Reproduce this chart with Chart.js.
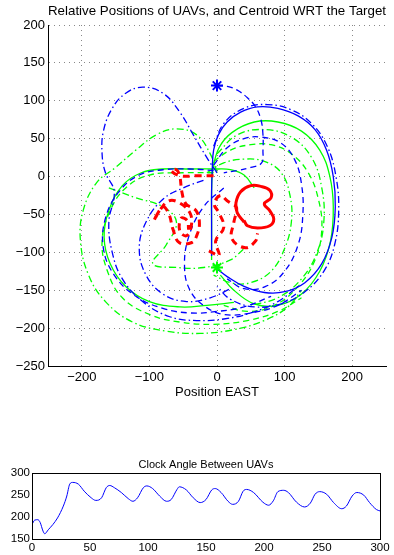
<!DOCTYPE html>
<html>
<head>
<meta charset="utf-8">
<script src="https://cdn.jsdelivr.net/npm/chart.js@4.4.1/dist/chart.umd.min.js"></script>
<style>
  body { margin: 0; background: #fff; }
  canvas { position: absolute; left: 0; }
  #top { top: 0; }
  #bottom { top: 410px; }
</style>
</head>
<body>
<canvas id="top" width="394" height="410"></canvas>
<canvas id="bottom" width="394" height="145"></canvas>
<script>
// Top plot: relative positions (EAST, NORTH) of the two UAVs and their centroid
const xTicks = [-200, -100, 0, 100, 200];
const yTicks = [-250, -200, -150, -100, -50, 0, 50, 100, 150, 200];

const uav1Start = [[0, 120]];
const uav2Start = [[0, -120]];

// UAV 1 (blue)
const blueApproach = [[0, 120], [15, 119], [30, 114], [45, 104], [57, 92], [65, 75], [68, 55], [68, 35], [66, 18], [50, 12], [30, 8], [10, 5]];
const blueSolid = [[-8, -105], [-8, -60], [-8, -20], [-7, 10], [-5, 35], [2, 55], [15, 72], [35, 85], [60, 92], [90, 90], [120, 80], [145, 62], [162, 35], [172, 0], [175, -40], [170, -80], [155, -115], [130, -140], [100, -152], [70, -153], [40, -145], [15, -132], [0, -122]];
const blueOuterRight = [[-5, 40], [10, 70], [40, 90], [75, 95], [110, 88], [140, 70], [163, 40], [176, 0], [180, -45], [174, -90], [158, -125], [130, -152], [95, -168], [55, -172], [20, -162], [0, -145]];
const blueInnerRight = [[-5, 15], [15, 38], [40, 50], [66, 52], [95, 44], [115, 22], [125, -10], [127, -50], [120, -90], [100, -125], [72, -145], [40, -148], [15, -135]];
const blueLeftLoop = [[0, 5], [-15, 25], [-35, 55], [-55, 85], [-80, 110], [-110, 118], [-135, 110], [-155, 90], [-168, 60], [-170, 30], [-165, 5], [-152, -20], [-160, -60], [-155, -100], [-140, -135], [-110, -165], [-70, -185], [-30, -190], [10, -188], [50, -180], [90, -165], [120, -145]];
const blueLeftDashed = [[-5, 8], [-40, 10], [-80, 9], [-115, 2], [-145, -20], [-165, -55], [-168, -95], [-152, -130], [-120, -158], [-80, -174], [-40, -180], [0, -178], [40, -172], [80, -158]];
const blueLeftInner = [[-20, -5], [-50, -15], [-80, -30], [-105, -60], [-115, -95], [-105, -130], [-80, -155], [-45, -165], [-10, -160], [20, -148]];
const blueCross = [[10, -15], [-20, -40], [-42, -80], [-48, -120], [-40, -150], [-20, -170], [10, -182], [50, -180], [90, -170], [125, -150]];

// UAV 2 (green)
const greenSolidRight = [[-8, -110], [-8, -60], [-8, -20], [-6, 10], [3, 38], [22, 58], [55, 72], [90, 72], [125, 60], [152, 35], [167, 0], [172, -40], [168, -85], [152, -125], [125, -155], [90, -170], [55, -168], [25, -150], [5, -130]];
const greenSolidLeft = [[55, -15], [40, 2], [20, 9], [0, 10], [-40, 10], [-80, 10], [-112, 5], [-140, -12], [-160, -45], [-167, -80], [-158, -115], [-135, -145], [-100, -165], [-55, -172], [-15, -170], [25, -166]];
const greenOuterLeft = [[0, 5], [-10, 30], [-30, 55], [-60, 63], [-90, 55], [-120, 35], [-150, 12], [-178, -8], [-198, -45], [-202, -85], [-190, -130], [-165, -165], [-125, -192], [-75, -204], [-25, -207], [25, -202], [70, -190], [105, -172], [125, -150]];
const greenLeftDashed = [[-5, 5], [-50, 5], [-100, 2], [-135, -15], [-158, -45], [-170, -85], [-162, -125], [-140, -160], [-100, -182], [-55, -192], [-5, -195], [45, -190], [90, -178], [125, -160]];
const greenRightDashed = [[-5, 20], [20, 35], [50, 42], [80, 42], [110, 30], [135, 5], [150, -30], [155, -70], [145, -110], [120, -145], [85, -170], [45, -178], [10, -170]];
const greenRightInner = [[-15, 5], [10, 18], [40, 23], [70, 20], [95, 5], [108, -25], [110, -60], [100, -95], [80, -125], [50, -140], [20, -140], [-5, -130]];
const greenRightMid = [[0, 30], [30, 55], [70, 62], [110, 52], [140, 25], [155, -15], [158, -60], [148, -100], [125, -135], [90, -160], [50, -170]];
const greenLeftInner = [[-160, -15], [-120, -28], [-80, -40], [-60, -60], [-75, -90], [-95, -115], [-60, -120], [-20, -120], [20, -110], [40, -95]];

// Centroid (red)
const centroidSpiral = [[-5, 1], [-30, 1], [-55, 1], [-68, 8], [-60, 9], [-55, 0], [-52, -20], [-46, -36], [-31, -45], [-26, -62], [-30, -78], [-37, -87], [-56, -87], [-65, -70], [-71, -50], [-80, -40], [-93, -58], [-85, -45], [-71, -32], [-55, -35], [-40, -48], [-38, -65], [-45, -78], [-55, -72], [-53, -55], [-44, -58], [-42, -70]];
const centroidMid = [[-12, -98], [3, -104], [-2, -85], [10, -67], [3, -48], [-4, -36], [5, -25], [15, -32], [22, -36], [29, -41], [25, -60], [22, -82], [42, -94], [57, -85], [60, -75]];
const centroidLoop = [[40, -60], [30, -48], [28, -35], [35, -20], [50, -12], [65, -13], [78, -18], [80, -28], [70, -36], [78, -45], [84, -56], [78, -65], [60, -68], [45, -65], [40, -58]];

// Bottom plot: clock angle between UAVs
const clockTime = [0, 2.3, 5, 7, 9.5, 11, 14, 18, 22, 27, 30, 32.5, 35, 40, 45, 51, 55, 60, 64, 67, 71, 77, 83, 87, 91, 96, 99, 104, 110, 116, 120, 125, 127, 133, 139, 145, 150, 155, 158, 163, 169, 173, 178, 182, 185, 191, 199, 204, 208, 212, 217, 221, 228, 235, 240, 244, 248, 254, 260, 267, 271, 276, 280, 286, 291, 297, 300];
const clockAngle = [183, 193, 194, 188, 168, 162, 171, 183, 198, 225, 248, 275, 279, 275, 259, 244, 238, 244, 267, 272, 267, 256, 242, 236, 244, 267, 271, 265, 248, 236, 240, 263, 269, 262, 244, 233, 240, 262, 265, 256, 236, 229, 236, 259, 263, 256, 234, 227, 237, 258, 261, 256, 234, 223, 232, 252, 258, 252, 233, 219, 225, 248, 256, 250, 233, 217, 214];

const FONT = "'Liberation Sans', Arial, Helvetica, sans-serif";
const BLUE = "#0000ff", GREEN = "#00ff00", RED = "#ff0000";
const DASH = [6, 4], DASHDOT = [7, 3, 1.5, 3];

const toPts = arr => arr.map(([x, y]) => ({ x, y }));
const minus = v => (v < 0 ? "\u2212" + Math.abs(v) : String(v));

function path(arr, color, dash, width) {
  return {
    data: toPts(arr),
    showLine: true,
    borderColor: color,
    borderWidth: width || 1.3,
    borderDash: dash,
    tension: 0.4,
    pointRadius: 0,
    fill: false,
  };
}

function star(arr, color) {
  return {
    data: toPts(arr),
    showLine: false,
    pointStyle: "star",
    pointRadius: 6,
    pointBorderWidth: 2,
    borderColor: color,
    backgroundColor: color,
  };
}

const topDatasets = [
  star(uav1Start, BLUE),
  star(uav2Start, GREEN),
  path(centroidLoop, RED, [], 3),
  path(centroidMid, RED, [7, 5], 3),
  path(centroidSpiral, RED, [7, 5], 3),
  path(blueApproach, BLUE, DASH),
  path(blueSolid, BLUE, []),
  path(blueOuterRight, BLUE, DASHDOT),
  path(blueInnerRight, BLUE, DASH),
  path(blueLeftLoop, BLUE, DASHDOT),
  path(blueLeftDashed, BLUE, DASH),
  path(blueLeftInner, BLUE, DASHDOT),
  path(blueCross, BLUE, DASH),
  path(greenSolidRight, GREEN, []),
  path(greenSolidLeft, GREEN, []),
  path(greenOuterLeft, GREEN, DASHDOT),
  path(greenLeftDashed, GREEN, DASH),
  path(greenRightDashed, GREEN, DASH),
  path(greenRightInner, GREEN, DASHDOT),
  path(greenRightMid, GREEN, DASHDOT),
  path(greenLeftInner, GREEN, DASHDOT),
];

new Chart(document.getElementById("top"), {
  type: "scatter",
  data: { datasets: topDatasets },
  options: {
    responsive: false,
    animation: false,
    events: [],
    layout: { padding: { left: 0, right: 6, top: 0, bottom: 0 } },
    plugins: {
      legend: { display: false },
      tooltip: { enabled: false },
      title: {
        display: true,
        fullSize: false,
        text: "Relative Positions of UAVs, and Centroid WRT the Target",
        color: "#000",
        font: { family: FONT, size: 13.5, weight: "normal" },
        padding: { top: 3, bottom: 5.8 },
      },
    },
    scales: {
      x: {
        type: "linear",
        min: -250,
        max: 250,
        afterBuildTicks: s => { s.ticks = xTicks.map(v => ({ value: v })); },
        afterFit: s => { s.height = 44; },
        grid: { color: "#888", drawTicks: false },
        border: { display: true, color: "#000", width: 1, dash: [1, 4] },
        ticks: { color: "#000", font: { family: FONT, size: 13 }, padding: 4, maxRotation: 0, autoSkip: false, callback: minus },
        title: { display: true, text: "Position EAST", color: "#000", font: { family: FONT, size: 13 }, padding: { top: 0, bottom: 10 } },
      },
      y: {
        type: "linear",
        min: -250,
        max: 200,
        afterBuildTicks: s => { s.ticks = yTicks.map(v => ({ value: v })); },
        afterFit: s => { s.width = 48; },
        grid: { color: "#888", drawTicks: false },
        border: { display: true, color: "#000", width: 1, dash: [1, 4] },
        ticks: { color: "#000", font: { family: FONT, size: 13 }, padding: 3, autoSkip: false, callback: minus },
      },
    },
  },
});

// box around the lower axes
const frame = {
  id: "frame",
  afterDraw(chart) {
    const a = chart.chartArea, ctx = chart.ctx;
    ctx.save();
    ctx.strokeStyle = "#000";
    ctx.lineWidth = 1;
    ctx.strokeRect(Math.round(a.left) + 0.5, Math.round(a.top) + 0.5, Math.round(a.width), Math.round(a.height));
    ctx.restore();
  },
};

new Chart(document.getElementById("bottom"), {
  type: "line",
  data: {
    datasets: [{
      data: clockTime.map((t, i) => ({ x: t, y: clockAngle[i] })),
      borderColor: BLUE,
      borderWidth: 1,
      pointRadius: 0,
      cubicInterpolationMode: "monotone",
      fill: false,
    }],
  },
  options: {
    responsive: false,
    animation: false,
    events: [],
    layout: { padding: { left: 0, right: 14, top: 48, bottom: 0 } },
    plugins: {
      legend: { display: false },
      tooltip: { enabled: false },
      title: {
        display: true,
        fullSize: false,
        text: "Clock Angle Between UAVs",
        color: "#000",
        font: { family: FONT, size: 11, weight: "normal" },
        padding: { top: 0, bottom: 2 },
      },
    },
    scales: {
      x: {
        type: "linear",
        min: 0,
        max: 300,
        afterFit: s => { s.height = 16; },
        grid: { display: false, drawTicks: false },
        border: { display: false },
        ticks: { stepSize: 50, color: "#000", font: { family: FONT, size: 11.5 }, padding: 2, maxRotation: 0 },
      },
      y: {
        type: "linear",
        min: 150,
        max: 300,
        afterFit: s => { s.width = 32; },
        grid: { display: false, drawTicks: false },
        border: { display: false },
        ticks: { stepSize: 50, color: "#000", font: { family: FONT, size: 11.5 }, padding: 2 },
      },
    },
  },
  plugins: [frame],
});
</script>
</body>
</html>
